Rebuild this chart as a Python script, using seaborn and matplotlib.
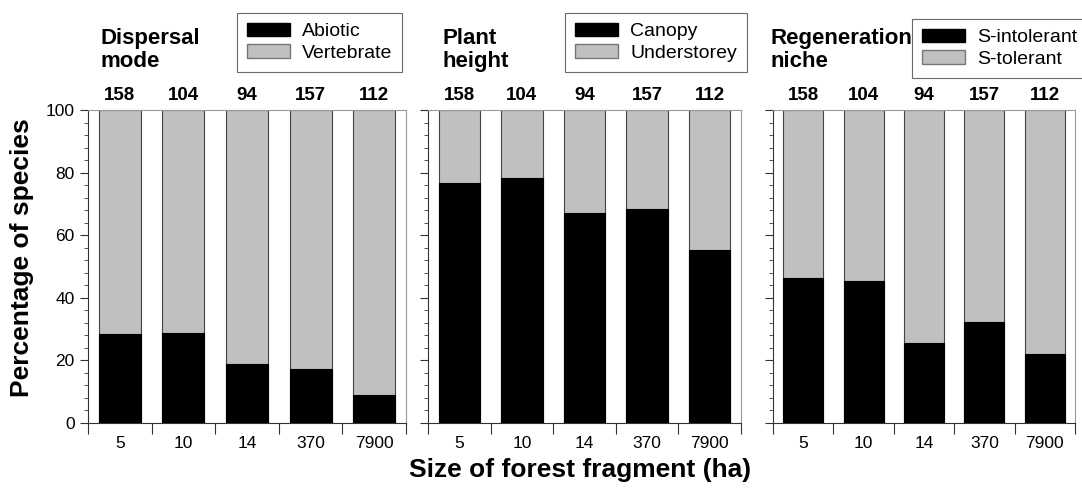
import matplotlib
matplotlib.use("Agg")
import matplotlib.pyplot as plt
import seaborn as sns
import pandas as pd
import numpy as np
from matplotlib.patches import Patch
from matplotlib.ticker import MultipleLocator, FixedLocator

sizes = ["5", "10", "14", "370", "7900"]
counts = [158, 104, 94, 157, 112]
titles = ["Dispersal\nmode", "Plant\nheight", "Regeneration\nniche"]
legend_labels = [["Abiotic", "Vertebrate"], ["Canopy", "Understorey"], ["S-intolerant", "S-tolerant"]]
dispersal_abiotic = [28.4, 28.8, 18.8, 17.2, 8.9]
height_canopy = [76.7, 78.2, 67.1, 68.4, 55.3]
regen_intolerant = [46.3, 45.4, 25.6, 32.3, 22.0]
totals = [100, 100, 100, 100, 100]

sns.set_theme(style="white")
plt.rcParams['font.family'] = ['Liberation Sans', 'DejaVu Sans']
plt.rcParams['text.color'] = 'black'
plt.rcParams['axes.labelcolor'] = 'black'
plt.rcParams['xtick.color'] = 'black'
plt.rcParams['ytick.color'] = 'black'

fig = plt.figure(figsize=(10.82, 4.93), dpi=100)
H = 493
W = 1082
panels = [(88, 406), (428, 741), (773, 1075)]
ytop, ybot = 110, 423
black_series = [dispersal_abiotic, height_canopy, regen_intolerant]
title_x = [100, 443, 771]
legend_boxes = [(237, 13), (565, 13), (912, 19)]
GRAY = "#c0c0c0"

for i, (x0, x1) in enumerate(panels):
    ax = fig.add_axes([x0 / W, 1 - ybot / H, (x1 - x0) / W, (ybot - ytop) / H])
    df = pd.DataFrame({"size": sizes, "total": totals, "black": black_series[i]})
    sns.barplot(data=df, x="size", y="total", color=GRAY, edgecolor="#444444",
                linewidth=0.8, width=0.66, ax=ax, saturation=1)
    sns.barplot(data=df, x="size", y="black", color="black", edgecolor="black",
                linewidth=0.8, width=0.66, ax=ax, saturation=1)
    ax.set_xlim(-0.5, 4.5)
    ax.set_ylim(0, 100)
    ax.set_xlabel("")
    ax.set_ylabel("")
    for s in ["top", "right"]:
        ax.spines[s].set_color("#999999")
        ax.spines[s].set_linewidth(0.8)
    for s in ["left", "bottom"]:
        ax.spines[s].set_color("#333333")
        ax.spines[s].set_linewidth(0.8)
    ax.yaxis.set_major_locator(MultipleLocator(20))
    ax.yaxis.set_minor_locator(MultipleLocator(4))
    ax.tick_params(axis="y", which="major", left=True, length=6, width=0.8, color="#333333",
                   labelsize=12.5, labelleft=(i == 0))
    ax.tick_params(axis="y", which="minor", left=True, length=3, width=0.6, color="#333333")
    ax.xaxis.set_minor_locator(FixedLocator([-0.5, 0.5, 1.5, 2.5, 3.5, 4.5]))
    ax.tick_params(axis="x", which="major", bottom=True, length=0, labelsize=12.5, pad=9)
    ax.tick_params(axis="x", which="minor", bottom=True, length=8, width=0.8, color="#333333")
    for j, c in enumerate(counts):
        ax.text(j, 102, str(c), ha="center", va="bottom", fontsize=13.5, fontweight="bold")
    fig.text(title_x[i] / W, 1 - 28 / H, titles[i], ha="left", va="top", fontsize=16,
             fontweight="bold", linespacing=1.1)
    lx, ly = legend_boxes[i]
    handles = [Patch(facecolor="black", edgecolor="black"),
               Patch(facecolor=GRAY, edgecolor="#777777")]
    leg = fig.legend(handles, legend_labels[i], loc="upper left",
                     bbox_to_anchor=(lx / W, 1 - ly / H), frameon=True, fancybox=False,
                     fontsize=14, handlelength=2.25, handleheight=0.7, handletextpad=0.6,
                     labelspacing=0.2, borderpad=0.5, borderaxespad=0)
    leg.get_frame().set_edgecolor("#444444")
    leg.get_frame().set_linewidth(0.8)

fig.text(22 / W, 1 - 258 / H, "Percentage of species", rotation=90, ha="center", va="center",
         fontsize=19, fontweight="bold")
fig.text(580 / W, 1 - 470 / H, "Size of forest fragment (ha)", ha="center", va="center",
         fontsize=19, fontweight="bold")

fig.savefig("out.png", dpi=100)
